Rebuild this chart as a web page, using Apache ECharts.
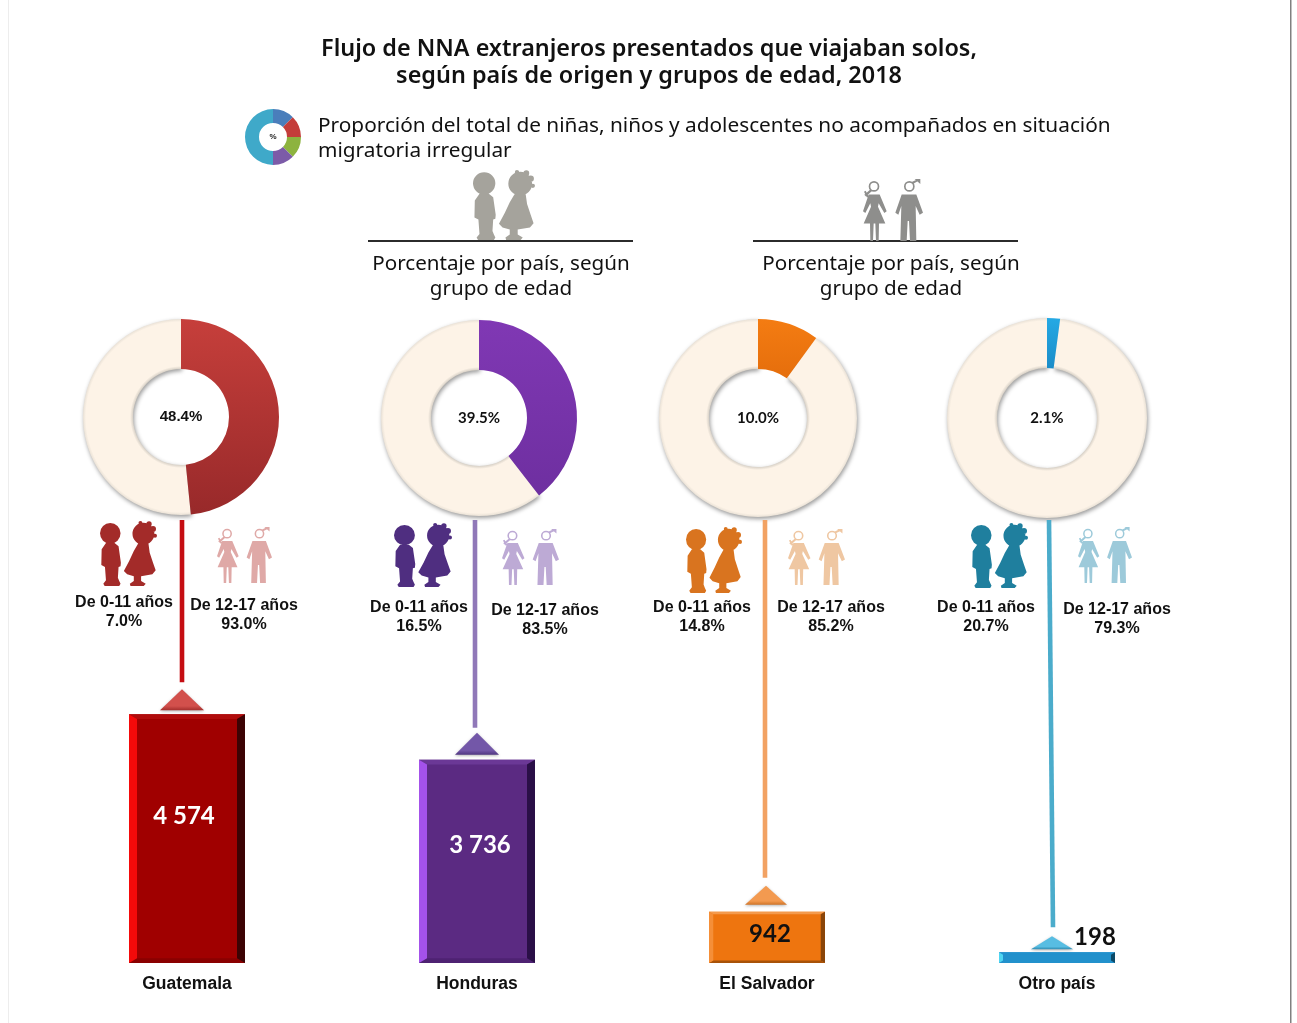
<!DOCTYPE html>
<html>
<head>
<meta charset="utf-8">
<title>Flujo de NNA</title>
<style>
  html, body { margin: 0; padding: 0; background: #fff; }
  #chart-container { width: 1297px; height: 1023px; }
</style>
<script src="https://cdn.jsdelivr.net/npm/echarts@6/dist/echarts.min.js"></script>
</head>
<body>
<div id="chart-container"></div>
<script>
// data
const countries = ['Guatemala', 'Honduras', 'El Salvador', 'Otro país'];
const totals = [4574, 3736, 942, 198];
const shares = [48.4, 39.5, 10.0, 2.1];
const age0to11 = [7.0, 16.5, 14.8, 20.7];
const age12to17 = [93.0, 83.5, 85.2, 79.3];
const legendSlices = [12.5, 12.5, 12.5, 12.5, 50];

// colours per country
const sectorTop = ['#C63F3B', '#8038B4', '#F47C12', '#25A9E4'];
const sectorBottom = ['#98292A', '#6E2FA0', '#E56E0C', '#1B8CC8'];
const barFace = ['#A00000', '#5B2A82', '#EE750F', '#2291CC'];
const barLeft = ['#F40A0A', '#A452EA', '#F58F38', '#4FD6F2'];
const barRight = ['#3C0304', '#2A0F47', '#8A4509', '#0C4A68'];
const barTop = ['#B00C0C', '#6B3896', '#F49A4C', '#2291CC'];
const barBottom = ['#8A0000', '#4E2272', '#A85208', '#2291CC'];
const stemColor = ['#C50D12', '#9078B8', '#F2A263', '#4BACCB'];
const triColor = ['#D2504C', '#7357A8', '#F39A50', '#58BDE2'];
const triEdge = ['#A5302E', '#4F3580', '#CF7428', '#2F8AB0'];
const kidColor = ['#A32B29', '#4F2E80', '#D9741F', '#1F7F9E'];
const adultColor = ['#DFA9A7', '#BDAAD5', '#EFC7A2', '#9DCADA'];

// layout in pixels
const pieCenter = [[181, 417], [479, 418], [758, 418], [1047, 418]];
const pieOuter = [98, 98, 99, 100];
const pieInner = [48, 48, 49, 50];
const stemTopX = [182, 475, 765, 1049];
const stemBottomX = [182, 475, 765, 1053];
const triX = [182, 477, 766, 1052];
const triSize = [[44, 21], [44, 22], [42, 19], [42, 13]];
const triGap = [4, 5, 7, 3];
const stemGap = [7, 5, 8, 9];
const valueOffset = [[-3, -22], [3, -16], [3, -3], [38, -20]];
const kidBox = [[100, 521, 57, 65], [394, 523, 58, 64], [686, 527, 56, 66], [971, 523, 57, 65]];
const adultBox = [[217, 527, 55, 56], [502, 529, 57, 56], [788, 529, 57, 56], [1078, 527, 54, 56]];
const labelYoung = [[124, 602], [419, 607], [702, 607], [986, 607]];
const labelOld = [[244, 605], [545, 610], [831, 607], [1117, 609]];

function circle(cx, cy, r, ccw) {
  const s = ccw ? 0 : 1;
  return 'M' + (cx - r) + ' ' + cy + ' A' + r + ' ' + r + ' 0 1 ' + s + ' ' + (cx + r) + ' ' + cy +
    ' A' + r + ' ' + r + ' 0 1 ' + s + ' ' + (cx - r) + ' ' + cy + ' Z ';
}

// silhouettes, both figures in one path
const KIDS_PATH =
  circle(31, 37, 31) +
  'M18 66 L44 66 L56 76 L63 125 L62 136 L56 138 L54 170 L58 180 L62 188 L58 195 L14 195 L10 188 L18 178 L15 138 L4 132 L5 85 Z ' +
  circle(131, 38, 33) + circle(160, 24, 9) + circle(148, 9, 8) + circle(166, 44, 6) + circle(122, 6, 6) +
  'M116 66 L146 66 L150 95 L160 125 L168 148 L158 160 L124 166 L124 180 L138 188 L132 195 L92 195 L90 188 L102 180 L102 166 L82 160 L72 150 L88 120 L102 90 Z';

const ADULTS_PATH =
  circle(33, 22, 16) + circle(33, 22, 11, true) +
  'M21 32 L26 36 L9 52 L4 47 Z M3 38 L8 35 L17 52 L12 55 Z ' +
  'M17 46 L50 46 L71 96 L64 101 L47 72 L45 82 L67 132 L48 132 L47 184 L39 184 L37 132 L32 132 L30 184 L22 184 L21 132 L2 132 L24 82 L22 72 L7 101 L0 96 Z ' +
  circle(139, 22, 16) + circle(139, 22, 11, true) +
  'M146 9 L161 2 L164 7 L151 14 Z M155 0 L172 0 L172 15 Z ' +
  'M116 46 L160 46 L180 100 L170 106 L158 80 L160 184 L141 184 L138 125 L134 125 L131 184 L112 184 L115 80 L106 106 L97 100 Z';

// all the icons: path, box, colour
const icons = [
  [KIDS_PATH, [473, 170, 62, 70], '#A5A39C'],
  [ADULTS_PATH, [863, 179, 60, 62], '#8E8E8C']
];
countries.forEach(function (c, i) {
  icons.push([KIDS_PATH, kidBox[i], kidColor[i]]);
  icons.push([ADULTS_PATH, adultBox[i], adultColor[i]]);
});

function renderIcon(params, api) {
  const item = icons[api.value(0)];
  const box = item[1];
  return {
    type: 'path',
    shape: { pathData: item[0], layout: 'cover', x: box[0], y: box[1], width: box[2], height: box[3] },
    style: { fill: item[2] }
  };
}

function label(text, x, y, size, opts) {
  return {
    type: 'text',
    silent: true,
    x: x,
    y: y,
    style: Object.assign({
      text: text,
      fill: '#111',
      font: size + 'px "Noto Sans"',
      align: 'center',
      verticalAlign: 'middle'
    }, opts || {})
  };
}

const boldArial = { font: 'bold 16px "Liberation Sans"' };

function formatTotal(v) {
  return String(v).replace(/\B(?=(\d{3})+$)/g, ' ');
}

// fixed header and frame
const graphics = [
  { type: 'rect', silent: true, shape: { x: 8, y: 0, width: 1, height: 1023 }, style: { fill: '#EDEDED' } },
  { type: 'rect', silent: true, shape: { x: 1290, y: 0, width: 1.5, height: 1023 }, style: { fill: '#808080' } },
  label('Proporción del total de niñas, niños y adolescentes no acompañados en situación', 318, 126, 20.8, { align: 'left' }),
  label('migratoria irregular', 318, 151, 20.8, { align: 'left' }),
  { type: 'rect', silent: true, shape: { x: 368, y: 240, width: 265, height: 2 }, style: { fill: '#2B2B2B' } },
  { type: 'rect', silent: true, shape: { x: 753, y: 240, width: 265, height: 2 }, style: { fill: '#2B2B2B' } },
  label('Porcentaje por país, según', 501, 264, 20.6),
  label('grupo de edad', 501, 289, 20.6),
  label('Porcentaje por país, según', 891, 264, 20.6),
  label('grupo de edad', 891, 289, 20.6)
];

countries.forEach(function (c, i) {
  graphics.push(label('De 0-11 años', labelYoung[i][0], labelYoung[i][1] + 1, 16, boldArial));
  graphics.push(label(age0to11[i].toFixed(1) + '%', labelYoung[i][0], labelYoung[i][1] + 20, 16, boldArial));
  graphics.push(label('De 12-17 años', labelOld[i][0], labelOld[i][1] + 1, 16, boldArial));
  graphics.push(label(age12to17[i].toFixed(1) + '%', labelOld[i][0], labelOld[i][1] + 20, 16, boldArial));
});

function polygon(points, fill) {
  return { type: 'polygon', shape: { points: points }, style: { fill: fill } };
}

// bar with bevelled edges
function renderBar(params, api) {
  const i = api.value(0);
  const top = api.coord([i, api.value(1)]);
  const base = api.coord([i, 0]);
  const w = api.size([1, 0])[0] * 0.4;
  const x0 = base[0] - w / 2;
  const x1 = base[0] + w / 2;
  const y0 = top[1];
  const y1 = base[1];
  const h = y1 - y0;
  const b = Math.max(4, Math.min(8, h / 12));
  const t = Math.min(b * 0.6, h * 0.3);
  const textAt = valueOffset[i];
  return {
    type: 'group',
    children: [
      polygon([[x0, y0], [x1, y0], [x1, y1], [x0, y1]], barFace[i]),
      polygon([[x0, y0], [x1, y0], [x1 - b, y0 + t], [x0 + b, y0 + t]], barTop[i]),
      polygon([[x0, y1], [x1, y1], [x1 - b, y1 - t], [x0 + b, y1 - t]], barBottom[i]),
      polygon([[x0, y0], [x0 + b, y0 + t], [x0 + b, y1 - t], [x0, y1]], barLeft[i]),
      polygon([[x1, y0], [x1 - b, y0 + t], [x1 - b, y1 - t], [x1, y1]], barRight[i]),
      {
        type: 'text',
        x: base[0] + textAt[0],
        y: (y0 + y1) / 2 + textAt[1],
        style: {
          text: formatTotal(api.value(1)),
          fill: i < 2 ? '#fff' : '#111',
          font: 'bold 24px Lato',
          align: 'center',
          verticalAlign: 'middle'
        }
      }
    ]
  };
}

// stem from the donut down to the small triangle over the bar
function renderStem(params, api) {
  const i = api.value(0);
  const top = api.coord([i, api.value(1)]);
  const size = triSize[i];
  const triBase = top[1] - triGap[i];
  const triTip = triBase - size[1];
  const cx = triX[i];
  const stemEnd = triTip - stemGap[i];
  return {
    type: 'group',
    children: [
      {
        type: 'polygon',
        shape: { points: [[stemTopX[i] - 2.3, 520], [stemTopX[i] + 2.3, 520], [stemBottomX[i] + 2.3, stemEnd], [stemBottomX[i] - 2.3, stemEnd]] },
        style: { fill: stemColor[i] }
      },
      {
        type: 'polygon',
        shape: { points: [[cx, triTip], [cx + size[0] / 2, triBase], [cx - size[0] / 2, triBase]] },
        style: {
          fill: new echarts.graphic.LinearGradient(0, 0, 0, 1, [
            { offset: 0, color: triColor[i] },
            { offset: 0.8, color: triColor[i] },
            { offset: 1, color: triEdge[i] }
          ]),
          shadowBlur: 3,
          shadowColor: 'rgba(0,0,0,0.3)',
          shadowOffsetY: 1
        }
      }
    ]
  };
}

// counter-clockwise from the top so the coloured slice is drawn last
const pieSeries = countries.map(function (c, i) {
  const cx = pieCenter[i][0];
  const cy = pieCenter[i][1];
  const R = pieOuter[i];
  const ratio = pieInner[i] / R;
  return {
    type: 'pie',
    silent: true,
    center: pieCenter[i],
    radius: [pieInner[i], R],
    startAngle: 90,
    clockwise: false,
    labelLine: { show: false },
    emphasis: { disabled: true },
    data: [
      {
        value: 100 - shares[i],
        name: 'Resto',
        label: { show: false },
        itemStyle: {
          color: {
            type: 'radial', x: cx, y: cy, r: R, global: true,
            colorStops: [
              { offset: ratio, color: '#D8D1C7' },
              { offset: ratio + 0.03, color: '#FDF3E7' },
              { offset: 0.97, color: '#FDF3E7' },
              { offset: 1, color: '#E9E1D6' }
            ]
          },
          shadowBlur: 4,
          shadowOffsetX: 1,
          shadowOffsetY: 2,
          shadowColor: 'rgba(0,0,0,0.4)'
        }
      },
      {
        value: shares[i],
        name: c,
        itemStyle: {
          color: new echarts.graphic.LinearGradient(0, 0, 0, 1, [
            { offset: 0, color: sectorTop[i] },
            { offset: 1, color: sectorBottom[i] }
          ])
        },
        label: {
          show: true,
          position: 'center',
          formatter: shares[i].toFixed(1) + '%',
          color: '#111',
          fontFamily: i === 0 ? 'Liberation Sans' : 'Lato',
          fontWeight: 'bold',
          fontSize: 15
        }
      }
    ]
  };
});

const legendColors = ['#4A7EBB', '#C43D3A', '#8DB33F', '#7C5BA8', '#3FA9C9'];
const legendPie = {
  type: 'pie',
  silent: true,
  center: [273, 137],
  radius: [14, 28],
  startAngle: 90,
  emphasis: { disabled: true },
  labelLine: { show: false },
  data: legendSlices.map(function (v, i) {
    return {
      value: v,
      name: 'p' + i,
      itemStyle: { color: legendColors[i] },
      label: i === 0
        ? { show: true, position: 'center', formatter: '%', fontSize: 8, fontWeight: 'bold', color: '#222' }
        : { show: false }
    };
  })
};

const barData = totals.map(function (v, i) { return [i, v]; });

const option = {
  animation: false,
  backgroundColor: '#fff',
  title: {
    text: 'Flujo de NNA extranjeros presentados que viajaban solos,\nsegún país de origen y grupos de edad, 2018',
    left: 644,
    top: 31,
    textAlign: 'center',
    textStyle: { fontFamily: 'Noto Sans', fontWeight: 600, fontSize: 23.4, lineHeight: 27, color: '#111' }
  },
  grid: { left: 42, width: 1160, top: 691, height: 272 },
  xAxis: {
    type: 'category',
    data: countries,
    axisLine: { show: false },
    axisTick: { show: false },
    axisLabel: { margin: 12, color: '#111', fontFamily: 'Liberation Sans', fontWeight: 'bold', fontSize: 17.5 }
  },
  yAxis: { type: 'value', min: 0, max: 5000, show: false, splitLine: { show: false } },
  graphic: graphics,
  series: [
    legendPie,
    ...pieSeries,
    { type: 'custom', silent: true, coordinateSystem: 'none', renderItem: renderIcon, data: icons.map(function (d, i) { return [i]; }) },
    { type: 'custom', silent: true, clip: false, renderItem: renderStem, encode: { x: 0, y: 1 }, data: barData, z: 3 },
    { type: 'custom', silent: true, clip: false, renderItem: renderBar, encode: { x: 0, y: 1 }, data: barData, z: 4 }
  ]
};

const myChart = echarts.init(document.getElementById('chart-container'), null, { renderer: 'canvas' });
myChart.setOption(option);
</script>
</body>
</html>
